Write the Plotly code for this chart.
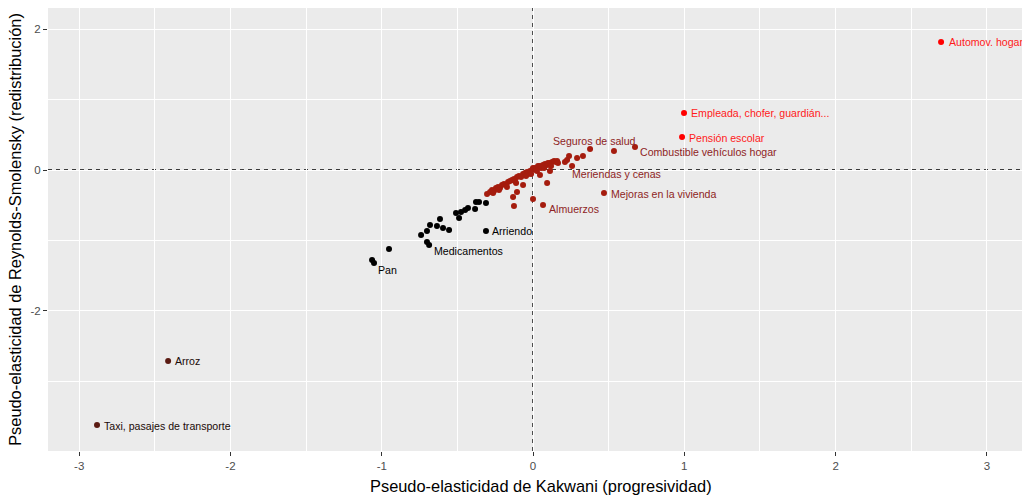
import plotly.graph_objects as go

# Pseudo-elasticities per expenditure item: Kakwani (x) vs Reynolds-Smolensky (y)

# Items with strongly negative redistribution (dark brown)
brown_x = [-2.412, -2.882]
brown_y = [-2.709, -3.617]
brown_lab = ["Arroz", "Taxi, pasajes de transporte"]

# Regressive block (black)
black_x = [-0.311, -0.311, -0.357, -0.377, -0.383, -0.430, -0.449, -0.476, -0.509, -0.489,
           -0.595, -0.555, -0.615, -0.635, -0.681, -0.701, -0.740, -0.701, -0.687, -0.952,
           -1.064, -1.051]
black_y = [-0.865, -0.468, -0.454, -0.454, -0.553, -0.539, -0.567, -0.596, -0.610, -0.681,
           -0.823, -0.851, -0.695, -0.794, -0.780, -0.865, -0.922, -1.021, -1.064, -1.121,
           -1.277, -1.319]
black_lab = ["Arriendo", "", "", "", "", "", "", "", "", "",
             "", "", "", "", "", "", "", "", "Medicamentos", "",
             "", "Pan"]

# Central block (dark red)
dred_x = [-0.304, -0.284, -0.271, -0.258, -0.245, -0.231, -0.218, -0.205, -0.192, -0.178,
          -0.165, -0.152, -0.139, -0.126, -0.119, -0.106, -0.093, -0.079, -0.066, -0.053,
          -0.040, -0.033, -0.020, -0.007, 0.000, 0.013, 0.020, 0.033, 0.046, 0.053,
          0.066, 0.079, 0.093, 0.099, 0.112, 0.126, 0.139, 0.152, 0.159,
          -0.264, -0.225, -0.172, -0.112, -0.046, -0.013, 0.026, 0.073, 0.119, 0.165,
          -0.132, -0.106, -0.066, -0.126, 0.000, 0.046, 0.093, 0.112, 0.066,
          0.225, 0.238, 0.211, 0.258, 0.291, 0.330, 0.377, 0.535, 0.674, 0.469]
dred_y = [-0.340, -0.312, -0.284, -0.298, -0.255, -0.241, -0.255, -0.213, -0.199, -0.213,
          -0.170, -0.156, -0.142, -0.128, -0.156, -0.099, -0.085, -0.099, -0.057, -0.043,
          -0.028, -0.057, -0.014, 0.000, 0.028, 0.028, 0.000, 0.057, 0.057, 0.028,
          0.071, 0.085, 0.071, 0.099, 0.099, 0.113, 0.128, 0.113, 0.128,
          -0.326, -0.284, -0.241, -0.184, -0.085, -0.057, -0.014, 0.028, 0.057, 0.099,
          -0.383, -0.312, -0.213, -0.511, -0.411, -0.071, -0.184, -0.014, -0.496,
          0.142, 0.199, 0.113, 0.057, 0.170, 0.199, 0.298, 0.270, 0.326, -0.326]
dred_lab = [""] * 57 + ["Almuerzos",
            "", "", "", "Meriendas y cenas", "", "", "Seguros de salud", "",
            "Combustible vehículos hogar", "Mejoras en la vivienda"]

# Progressive items (bright red)
red_x = [2.697, 0.998, 0.985]
red_y = [1.816, 0.809, 0.468]
red_lab = ["Automov. hogar", "Empleada, chofer, guardián...", "Pensión escolar"]

# Axis ticks
x_ticks = [-3, -2, -1, 0, 1, 2, 3]
x_ticktext = ["-3", "-2", "-1", "0", "1", "2", "3"]
y_ticks = [-2, 0, 2]
y_ticktext = ["-2", "0", "2"]

groups = [
    (black_x, black_y, black_lab, "#000000", "#000000"),
    (dred_x, dred_y, dred_lab, "#A51C0E", "#8E2424"),
    (red_x, red_y, red_lab, "#FF0000", "#FF1A1A"),
    (brown_x, brown_y, brown_lab, "#5A1A12", "#1A0A08"),
]

# label placement relative to its point: (xanchor, xshift, yshift) in pixels
label_offsets = {
    "Automov. hogar": ("left", 6, 0),
    "Empleada, chofer, guardián...": ("left", 5, 0),
    "Pensión escolar": ("left", 5, -1),
    "Combustible vehículos hogar": ("left", 3, -5),
    "Seguros de salud": ("center", 4, 8),
    "Meriendas y cenas": ("left", -2, -8),
    "Mejoras en la vivienda": ("left", 5, -1),
    "Almuerzos": ("left", 4, -4),
    "Arriendo": ("left", 4, 0),
    "Medicamentos": ("left", 3, -6),
    "Pan": ("left", 2, -7),
    "Arroz": ("left", 5, 0),
    "Taxi, pasajes de transporte": ("left", 5, -1),
}

fig = go.Figure()
annotations = []
for xs, ys, labs, col, tcol in groups:
    fig.add_trace(go.Scatter(
        x=xs, y=ys, mode="markers",
        marker=dict(color=col, size=6, line=dict(width=0)),
        showlegend=False, hoverinfo="x+y",
    ))
    for xv, yv, lab in zip(xs, ys, labs):
        if not lab:
            continue
        anchor, dx, dy = label_offsets[lab]
        annotations.append(dict(
            x=xv, y=yv, xref="x", yref="y", text=lab, showarrow=False,
            xanchor=anchor, yanchor="middle", xshift=dx, yshift=dy,
            font=dict(family="Liberation Sans, Arial, sans-serif", size=10.6, color=tcol),
        ))

# x-axis title, centred on the full panel (which runs slightly past the right edge)
annotations.append(dict(
    x=0.5062, y=0, xref="paper", yref="paper", xanchor="center", yanchor="top",
    yshift=-24, showarrow=False,
    text="Pseudo-elasticidad de Kakwani (progresividad)",
    font=dict(family="Liberation Sans, Arial, sans-serif", size=16.4, color="black"),
))

fig.update_layout(
    width=1022, height=498,
    margin=dict(l=48, r=0, t=8, b=47),
    paper_bgcolor="white",
    plot_bgcolor="#EBEBEB",
    font=dict(family="Liberation Sans, Arial, sans-serif"),
    annotations=annotations,
    shapes=[
        dict(type="line", xref="x", yref="paper", x0=0, x1=0, y0=0, y1=1,
             line=dict(color="black", width=1.4, dash="4px,4px"), layer="below"),
        dict(type="line", xref="paper", yref="y", x0=0, x1=1, y0=0, y1=0,
             line=dict(color="black", width=1.4, dash="4px,4px"), layer="below"),
    ],
)

fig.update_xaxes(
    range=[-3.206, 3.232], tickvals=x_ticks, ticktext=x_ticktext,
    ticks="outside", ticklen=4, tickcolor="#333333", tickwidth=1,
    tickfont=dict(size=11.5, color="#4D4D4D"),
    showgrid=True, gridcolor="white", gridwidth=1.1,
    minor=dict(tickvals=[-2.5, -1.5, -0.5, 0.5, 1.5, 2.5], showgrid=True,
               gridcolor="white", gridwidth=0.55),
    zeroline=False, showline=False,
)
fig.update_yaxes(
    range=[-3.986, 2.298], tickvals=y_ticks, ticktext=y_ticktext,
    ticks="outside", ticklen=4, tickcolor="#333333", tickwidth=1,
    tickfont=dict(size=11.5, color="#4D4D4D"),
    showgrid=True, gridcolor="white", gridwidth=1.1,
    minor=dict(tickvals=[-3, -1, 1], showgrid=True, gridcolor="white", gridwidth=0.55),
    zeroline=False, showline=False,
    title=dict(text="Pseudo-elasticidad de Reynolds-Smolensky (redistribución)",
               font=dict(size=16.4, color="black"), standoff=4),
)

fig.write_html("out.html")
